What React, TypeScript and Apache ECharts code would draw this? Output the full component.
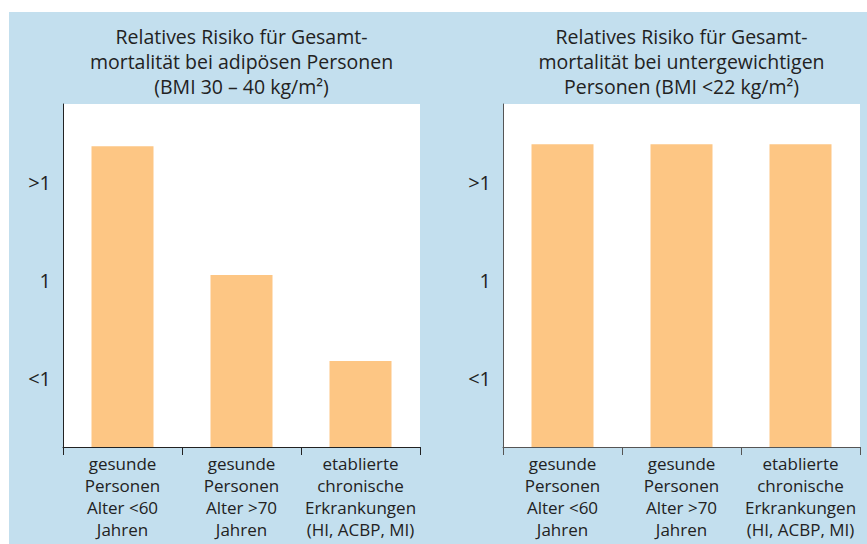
import React, { useEffect, useRef } from "react";
import * as echarts from "echarts";

const categories = [
  "gesunde\nPersonen\nAlter <60\nJahren",
  "gesunde\nPersonen\nAlter >70\nJahren",
  "etablierte\nchronische\nErkrankungen\n(HI, ACBP, MI)",
];
const leftValues = [3.07, 1.755, 0.878];
const rightValues = [3.09, 3.09, 3.09];
const tickValues = [0.7, 1.7, 2.7];
const tickLabels = ["<1", "1", ">1"];
const leftTitle = "Relatives Risiko für Gesamt-\nmortalität bei adipösen Personen\n(BMI 30 – 40 kg/m²)";
const rightTitle = "Relatives Risiko für Gesamt-\nmortalität bei untergewichtigen\nPersonen (BMI <22 kg/m²)";

const FONT = "Open Sans";
const TEXT = "#222222";
const BLUE = "#c3dfee";
const BAR = "#fdc684";

export default function App() {
  const ref = useRef<HTMLDivElement>(null);
  useEffect(() => {
    if (!ref.current) return;
    const chart = echarts.init(ref.current, null, { renderer: "svg" });
    const yAxisBase = (color: string) => ({
      type: "value",
      min: 0,
      max: 3.5,
      splitLine: { show: false },
      axisTick: { show: false },
      axisLine: { show: true, lineStyle: { color, width: 1 } },
      axisLabel: {
        customValues: tickValues,
        formatter: (v: number) => {
          const i = tickValues.findIndex((t) => Math.abs(t - v) < 1e-6);
          return i >= 0 ? tickLabels[i] : "";
        },
        fontFamily: FONT,
        fontSize: 20,
        color: TEXT,
        margin: 12,
      },
    });
    const xAxisBase = (gridIndex: number, color: string) => ({
      type: "category",
      gridIndex,
      data: categories,
      axisLine: { show: true, lineStyle: { color, width: 1 } },
      axisTick: { show: true, length: 8, lineStyle: { color, width: 1 } },
      axisLabel: {
        interval: 0,
        fontFamily: FONT,
        fontSize: 17,
        lineHeight: 22,
        color: TEXT,
        margin: 5,
      },
    });
    const titleStyle = { fontFamily: FONT, fontSize: 19.5, fontWeight: "normal", color: TEXT, lineHeight: 25 };
    chart.setOption({
      animation: false,
      backgroundColor: "#ffffff",
      graphic: [
        {
          type: "rect",
          shape: { x: 9, y: 12, width: 858, height: 532 },
          style: { fill: BLUE },
          z: -10,
          silent: true,
        },
      ],
      title: [
        { text: leftTitle, left: 241.5, top: 24, padding: 0, textAlign: "center", textStyle: titleStyle },
        { text: rightTitle, left: 681.5, top: 24, padding: 0, textAlign: "center", textStyle: titleStyle },
      ],
      grid: [
        { left: 63, right: 447, top: 104, bottom: 97, show: true, backgroundColor: "#ffffff", borderWidth: 0 },
        { left: 503, right: 7, top: 104, bottom: 97, show: true, backgroundColor: "#ffffff", borderWidth: 0 },
      ],
      xAxis: [xAxisBase(0, "#222"), xAxisBase(1, "#555")],
      yAxis: [
        { ...yAxisBase("#222"), gridIndex: 0 },
        { ...yAxisBase("#555"), gridIndex: 1 },
      ],
      series: [
        { type: "bar", xAxisIndex: 0, yAxisIndex: 0, data: leftValues, barWidth: 62, itemStyle: { color: BAR } },
        { type: "bar", xAxisIndex: 1, yAxisIndex: 1, data: rightValues, barWidth: 62, itemStyle: { color: BAR } },
      ],
    });
    return () => chart.dispose();
  }, []);
  return <div ref={ref} style={{ position: "fixed", left: 0, top: 0, width: 867, height: 544 }} />;
}
